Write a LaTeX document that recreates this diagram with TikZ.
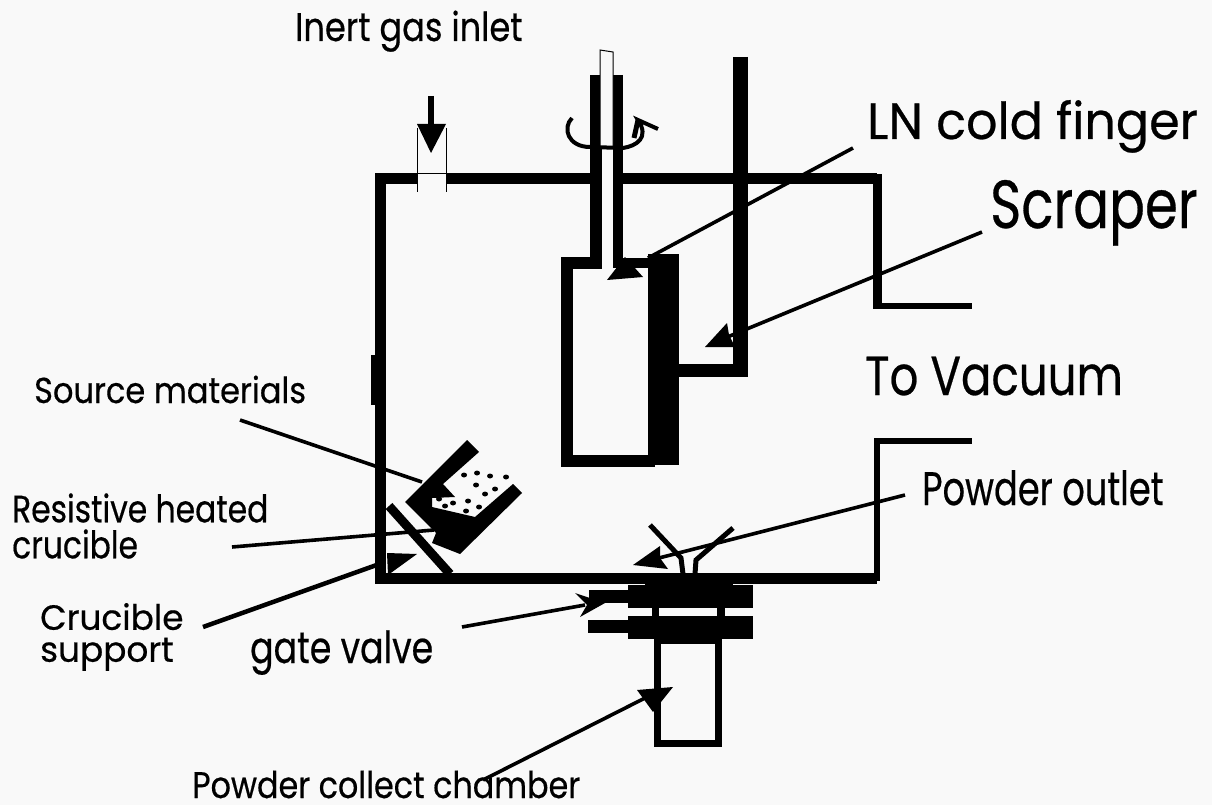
\documentclass[tikz,border=0pt]{standalone}
\usepackage{fontspec}
\setmainfont[FakeBold=0.5]{Poppins}
\definecolor{paper}{RGB}{249,249,249}
\tikzset{
 wall/.style={line width=11pt,line cap=butt,line join=miter},
 pipe/.style={line width=6pt},
 leader/.style={line width=3.6pt},
 thin/.style={line width=1pt},
 lab/.style={inner sep=0pt,align=left,anchor=base west,transform shape},
 labm/.style={inner sep=0pt,align=left,anchor=west,transform shape},
 head/.style={fill=black,draw=none}
}
\begin{document}
\begin{tikzpicture}[x=1pt,y=-1pt]
\useasboundingbox[fill=paper] (0,0) rectangle (1212,805);
% chamber
\draw[wall] (417,179) -- (380.5,179) -- (380.5,578) -- (877,578);
\draw[pipe] (877,581) -- (877,441) -- (972,441);
\draw[wall] (446,179) -- (877,179);
\draw[line width=9pt] (877,174) -- (877,306);
\draw[pipe] (873,306) -- (972,306);
\draw[line width=4pt] (373,355) -- (373,405);
% inlet
\draw[thin] (417,128) -- (417,192) (446,128) -- (446,192) (417,174) -- (446,174);
\coordinate (inA) at (431,96);
\coordinate (inB) at (431,130);
\draw[line width=5.5pt] (inA) -- (inB);
\path[head] (417,124) -- (446,124) -- (431,153) -- cycle;
% finger
\draw[line width=12pt,line join=miter] (595.5,75) -- (595.5,263) -- (566.5,263) -- (566.5,461) -- (655,461);
\draw[line width=10pt,line join=miter] (618,75) -- (618,263) -- (655,263);
\fill (648,254) rectangle (679,465);
\draw[thin,fill=paper] (600,50) -- (613,52) -- (613,147) -- (600,147) -- cycle;
\fill[paper] (601.5,147) rectangle (613,258);
% rotation arrow
\draw[line width=4pt] (572,118) .. controls (562,128) and (568,147) .. (590,147) -- (623,148) .. controls (636,146) and (650,138) .. (638,120) -- (658,129);
\draw[line width=5pt] (638,120) -- (634,138);
% scraper
\draw[line width=15pt] (740,57) -- (740,377);
\fill (679,364) rectangle (748,377);
% labels
\node[lab,xscale=.84] (inlet) at (295,41) {\fontsize{40}{42}\selectfont Inert gas inlet};
\node[lab,xscale=.965] (cold) at (867,139) {\fontsize{51}{54}\selectfont LN cold finger};
\node[lab,xscale=.78] (scr) at (990,228) {\fontsize{68}{70}\selectfont Scraper};
\node[lab,xscale=.82] (vac) at (865,395) {\fontsize{55}{58}\selectfont To Vacuum};
\node[lab,xscale=.89] (src) at (34,403) {\fontsize{36}{38}\selectfont Source materials};
\node[labm,xscale=.825,font=\fontsize{38}{36}\selectfont] (res) at (12,526) {Resistive heated\\crucible};
\node[labm,xscale=.98,font=\fontsize{35}{32}\selectfont] (sup) at (40,637) {Crucible\\support};
\node[lab,xscale=.79] (gate) at (250,663) {\fontsize{44}{46}\selectfont gate valve};
\node[lab,xscale=.75] (out) at (922,505) {\fontsize{47}{50}\selectfont Powder outlet};
\node[lab,xscale=.86] (col) at (192,798) {\fontsize{37}{40}\selectfont Powder collect chamber};
% leaders
\coordinate (lnA) at (853,148); \coordinate (lnB) at (648,258);
\draw[leader] (lnA) -- (lnB);
\path[head] (607,280) -- (643,277) -- (625,257) -- cycle;
\coordinate (scA) at (982,232); \coordinate (scB) at (725,338);
\draw[leader] (scA) -- (scB);
\path[head] (705,347) -- (727,323) -- (729,335) -- (735,347) -- cycle;
% crucible
\coordinate (srcA) at (240,420); \coordinate (srcB) at (422,482);
\draw[leader] (srcA) -- (srcB);
\fill (467,440) -- (479,452) -- (443,484) -- (455,497) -- (432,498) -- (432,507) -- (475,517) -- (513,484) -- (522,493) -- (460,554) -- (432,543) -- (436,533) -- (433,530) -- (405,502) -- cycle;
\foreach \p/\r in {464/475,477/473,490/476,506/477,476/485,495/489,485/494,468/501,479/507,466/511,453/503,445/506,439/499}
  \fill (\p,\r) ellipse [x radius=3pt,y radius=2.5pt];
% support
\draw[line width=9pt] (389,506) -- (450,574);
\coordinate (resA) at (232,547); \coordinate (resB) at (434,530);
\draw[leader] (resA) -- (resB);
\coordinate (supA) at (203,627); \coordinate (supB) at (385,562);
\draw[line width=4.5pt] (supA) -- (supB);
\path[head] (388,575) -- (417,554) -- (387,553) -- cycle;
% outlet funnel
\draw[line width=5pt,line join=miter] (650,525) -- (681,558) -- (683,574);
\draw[line width=5pt,line join=miter] (733,528) -- (696,560) -- (695,574);
\coordinate (outA) at (905,495); \coordinate (outB) at (655,559);
\draw[leader] (outA) -- (outB);
\path[head] (633,565) -- (660,546) -- (660,558) -- (668,569) -- cycle;
% gate valve
\fill (645,573) rectangle (733,586);
\fill (628,585) rectangle (753,608);
\fill (589,590) rectangle (630,603);
\fill (628,616) rectangle (753,639);
\fill (588,620) rectangle (630,633);
\fill (652,607) rectangle (659,617);
\fill (717,607) rectangle (725,617);
% collect chamber
\draw[line width=7pt,line join=miter] (657.5,638) -- (657.5,743.5) -- (718.5,743.5) -- (718.5,638);
\fill (654,638) rectangle (722,644);
\coordinate (gvA) at (462,627); \coordinate (gvB) at (585,605);
\draw[leader] (gvA) -- (gvB);
\path[head] (575,593) -- (605,603) -- (580,617) -- (587,605) -- cycle;
\coordinate (colA) at (483,780); \coordinate (colB) at (647,697);
\draw[leader] (colA) -- (colB);
\path[head] (637,690) -- (673,687) -- (653,712) -- cycle;
\end{tikzpicture}
\end{document}
